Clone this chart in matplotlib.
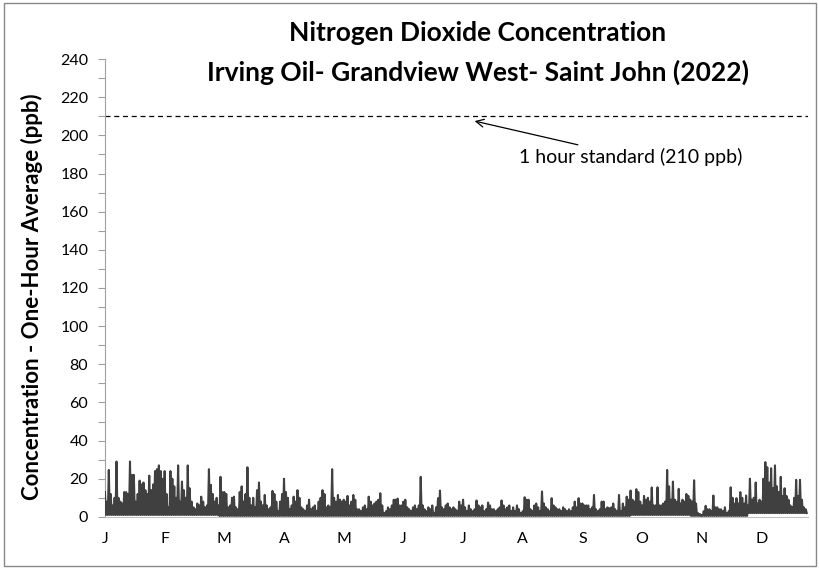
import numpy as np
import matplotlib
matplotlib.use("Agg")
import matplotlib.pyplot as plt
from matplotlib.patches import Rectangle
from matplotlib.ticker import MultipleLocator

plt.rcParams['font.family'] = ['Lato', 'DejaVu Sans']

# daily peak NO2 (ppb), one list per month
jan = [13, 8, 24.6, 12, 6, 10, 29, 10, 8, 7, 13, 13, 12, 29, 22, 22, 8, 12, 19, 17,
       18, 14, 12, 21.6, 14, 17, 24, 25, 27, 24, 20]
feb = [24, 12, 5, 24, 20, 16, 10, 27, 8, 18.5, 14, 10, 27, 15, 8, 5, 4, 7, 6, 10.6,
       8, 5, 6, 25, 16.8, 12, 8, 10]
mar = [6, 21, 13, 13, 12, 5, 6, 10, 10.6, 5, 4, 13, 16, 8, 12, 26, 10, 6, 10, 5,
       14, 18, 8, 6, 11.5, 6, 4, 5, 13.6, 12, 8]
apr = [3, 8, 12, 20, 13, 10, 4, 6, 10.6, 8, 14, 10, 5, 4, 3, 6, 9, 4, 5, 6,
       3, 8, 10, 14, 12, 5, 6, 5, 25, 10]
may = [8, 11.5, 9, 8, 9, 8, 11, 6, 8, 11.5, 9, 4, 4, 3, 5, 6, 4, 10.6, 8, 6,
       7, 8, 9, 12.4, 6, 2, 3, 5, 4, 6, 9]
jun = [9, 9.6, 6, 6, 8, 9, 5, 4, 3, 5, 6, 4, 6, 21, 6, 4, 3, 5, 4, 6,
       2, 5, 9.8, 13.8, 5, 4, 6, 7, 5, 4]
jul = [5, 4, 3, 8, 6, 9, 5, 3, 6, 4, 3, 4, 8.6, 6, 5, 6, 3, 4, 7.5, 6,
       4, 4, 3, 4, 5, 8.6, 6, 4, 5, 6, 3]
aug = [5, 3, 6, 4, 2, 3, 10.3, 9, 9, 4, 3, 6, 7, 5, 3, 13.3, 7, 5, 4, 3,
       9.8, 6, 5, 4, 4, 3, 5, 4, 3, 4, 3]
sep = [5, 8, 5, 9.8, 7, 7, 6, 6, 6, 4, 5, 11.5, 4, 3, 4, 8, 8, 4, 5, 4.5,
       5, 7, 4, 3, 11.5, 3, 7, 5, 10.6, 9]
oct_ = [13.8, 9, 8, 14.5, 13, 8, 6, 11, 9, 10, 8, 15.4, 6, 6, 15.5, 6, 6, 7, 8, 24.6,
        16, 9, 18.5, 9, 8, 14.7, 7, 9, 8, 12, 11]
nov = [9, 8, 19.2, 7, 2, 1.5, 1, 3, 5.8, 4, 4, 3, 11.2, 5, 5, 4, 4, 3, 5, 2,
       3, 15.5, 10, 7, 9.8, 7, 13, 10, 7, 11.2]
dec = [6, 20, 9, 10, 18, 7, 9, 8, 20, 28.7, 26, 18, 25.5, 15, 27, 16, 13, 21, 11, 15,
       11, 9, 6, 5, 10, 19.4, 11, 19.4, 9, 5, 4]

# typical overnight low per month (ppb)
floors = [1, 1, 0.5, 0.5, 0.5, 0.5, 0.5, 0.5, 0.5, 1, 0.5, 2]

month_labels = ['J', 'F', 'M', 'A', 'M', 'J', 'J', 'A', 'S', 'O', 'N', 'D']
standard = 210

months = [jan, feb, mar, apr, may, jun, jul, aug, sep, oct_, nov, dec]
vals = []
for m, fl in zip(months, floors):
    for p in m:
        vals.append(p)
        vals.append(fl)
vals = np.array(vals)
x = np.arange(len(vals)) / 2.0   # in days

fig = plt.figure(figsize=(8.2, 5.68), dpi=100)
ax = fig.add_axes([0.128, 0.09, 0.857, 0.806])

ax.plot(x, vals, color='#404040', lw=1.5, zorder=3)
ax.axhline(standard, color='black', lw=0.9, ls=(0, (4, 3)))

ax.annotate('1 hour standard (210 ppb)', xy=(192, 207.5), xytext=(215, 188.7),
            fontsize=14, ha='left', va='center',
            arrowprops=dict(arrowstyle='->', color='black', lw=0.9,
                            shrinkA=1, shrinkB=0))

ax.set_xlim(0, 365)
ax.set_ylim(0, 240)
ax.yaxis.set_major_locator(MultipleLocator(20))
ax.yaxis.set_minor_locator(MultipleLocator(10))
ax.set_xticks(np.arange(12) * 31)
ax.set_xticklabels(month_labels)
ax.tick_params(axis='x', length=0, pad=11, labelsize=11.5)
ax.tick_params(axis='y', which='both', direction='out', length=5, width=0.8,
               color='#a0a0a0', labelsize=11.5, pad=7)

for s in ['top', 'right']:
    ax.spines[s].set_visible(False)
ax.spines['left'].set_color('#a0a0a0')
ax.spines['bottom'].set_color('#c0c0c0')

fig.text(0.583, 0.942, 'Nitrogen Dioxide Concentration', ha='center', va='center',
         fontsize=19, fontweight='bold')
fig.text(0.583, 0.872, 'Irving Oil- Grandview West- Saint John (2022)', ha='center',
         va='center', fontsize=19, fontweight='bold')
fig.text(0.039, 0.477, 'Concentration - One-Hour Average (ppb)', rotation=90,
         ha='center', va='center', fontsize=16, fontweight='bold')

fig.patches.append(Rectangle((4 / 820, 2 / 568), 812 / 820, 563 / 568,
                             transform=fig.transFigure, fill=False,
                             edgecolor='#888888', lw=1))

fig.savefig('out.png', dpi=100)
